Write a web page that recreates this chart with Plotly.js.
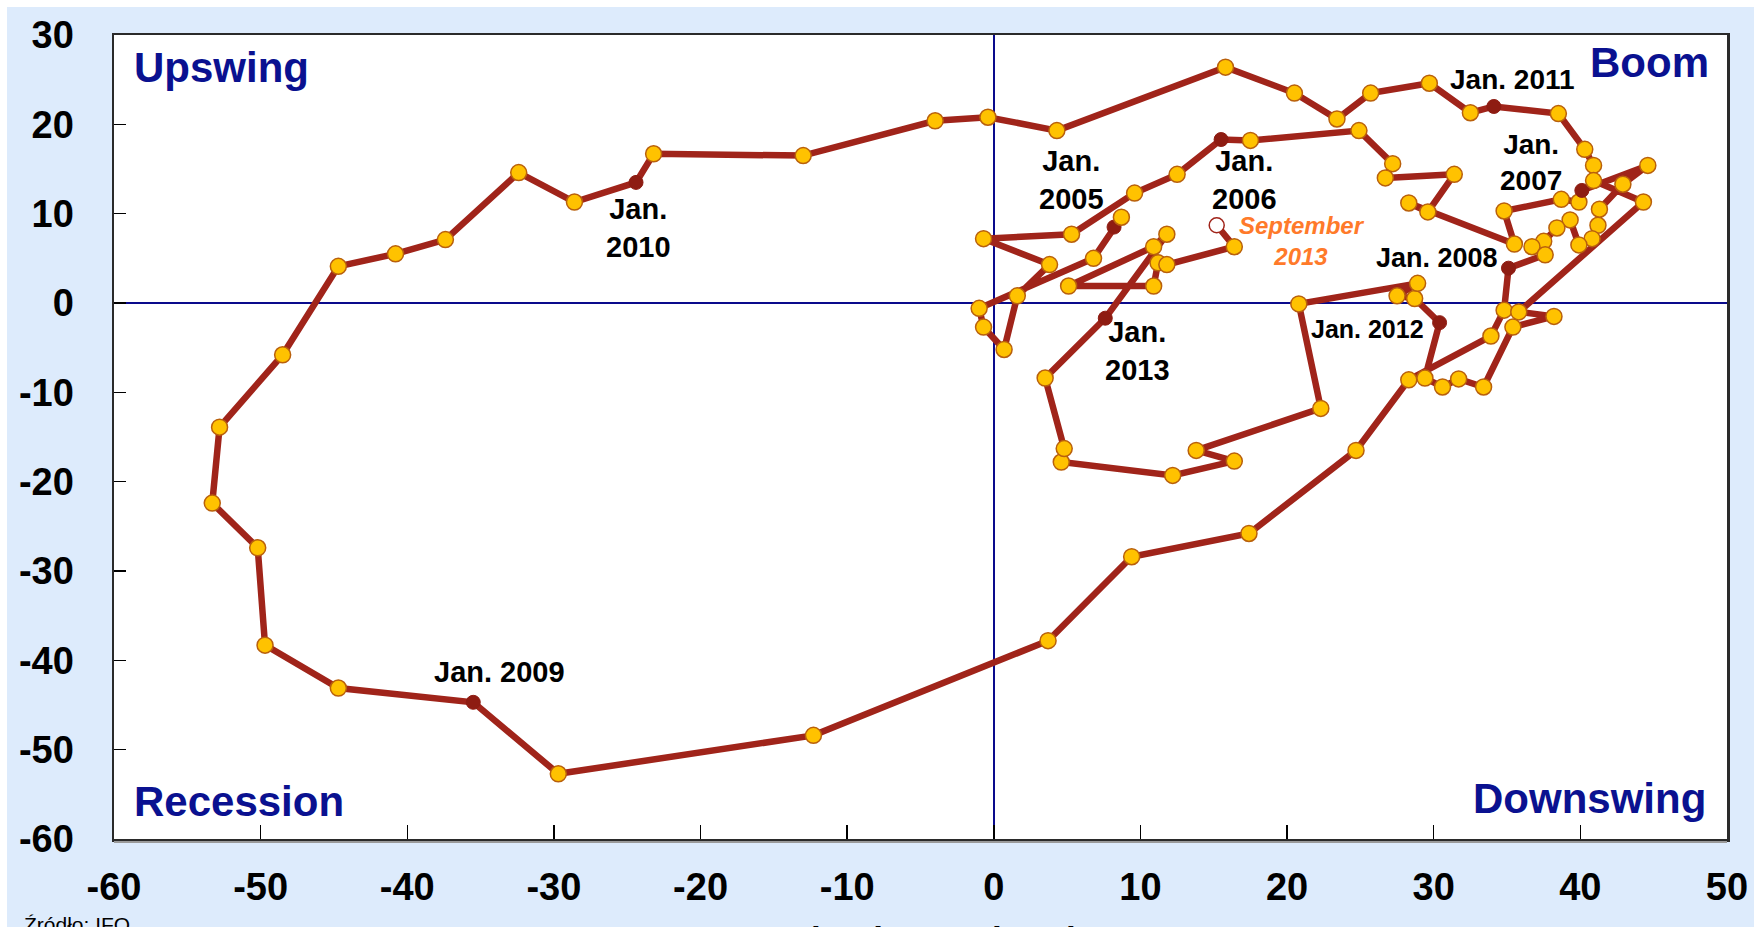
<!DOCTYPE html>
<html>
<head>
<meta charset="utf-8">
<script src="https://cdn.plot.ly/plotly-3.0.1.min.js"></script>
<style>
  html, body { margin: 0; padding: 0; background: #ffffff; }
  #chart { width: 1754px; height: 927px; }
</style>
</head>
<body>
<div id="chart"></div>
<script>
// Current business situation (x) and business expectations (y), monthly path
const situation = [
  8.2, 8.7, 6.8, -1.0, -0.7, 0.7, 1.6, 3.8, -0.7, 5.3, 9.6, 12.5,
  15.5, 17.5, 24.9, 27.2, 26.7, 31.4, 29.6, 28.3, 35.5, 34.8, 38.7, 39.9,
  40.1, 44.6, 42.9, 41.3, 41.2, 40.8, 39.9, 39.3, 38.4, 37.5, 36.7, 37.6,
  35.1, 34.8, 33.9, 28.3, 24.7, 17.4, 9.4, 3.7, -12.3, -29.7,
  -35.5, -44.7, -49.7, -50.2, -53.3, -52.8, -48.5, -44.7, -40.8, -37.4, -32.4, -28.6,
  -24.4, -23.2, -13.0, -4.0, -0.4, 4.3, 15.8, 20.5, 23.4, 25.7, 29.7, 32.5,
  34.1, 38.5, 40.3, 40.9, 40.9, 44.3, 35.8, 38.2, 35.4, 33.4, 31.7, 30.6, 29.4,
  30.4, 28.7, 27.5, 28.9, 20.8, 22.3, 13.8, 16.4, 12.2, 4.6, 4.8, 3.5,
  7.6, 11.8, 10.9, 5.1, 10.9, 11.2, 11.8, 16.4, 15.2
];
const expectations = [
  8.5, 9.6, 5.0, -0.6, -2.7, -5.2, 0.8, 4.3, 7.2, 7.7, 12.3, 14.4,
  18.3, 18.2, 19.3, 15.6, 14.0, 14.4, 10.2, 11.2, 6.6, 10.3, 11.6, 11.3,
  12.6, 15.4, 13.3, 10.5, 8.7, 7.2, 6.5, 9.3, 8.4, 6.9, 6.3, 5.4,
  3.9, -0.8, -3.7, -8.6, -16.5, -25.8, -28.4, -37.8, -48.4, -52.7,
  -44.7, -43.1, -38.3, -27.4, -22.4, -13.9, -5.8, 4.1, 5.5, 7.1, 14.6, 11.3,
  13.5, 16.7, 16.5, 20.4, 20.8, 19.3, 26.4, 23.5, 20.6, 23.5, 24.6, 21.3,
  22.0, 21.2, 17.2, 15.4, 13.7, 11.3, -1.0, -1.5, -2.7, -9.4, -8.5, -9.4, -8.4,
  -2.2, 0.5, 0.8, 2.2, -0.1, -11.8, -16.5, -17.7, -19.3, -17.8, -16.3, -8.4,
  -1.7, 7.7, 6.3, 1.9, 1.9, 4.5, 4.3, 6.3, 8.7
];
// indices of the January points in the path
const januaryIdx = [0, 12, 24, 36, 46, 58, 70, 83, 95];
const januaryLabels = ['Jan.<br>2005', 'Jan.<br>2006', 'Jan.<br>2007', 'Jan. 2008', 'Jan. 2009',
                       'Jan.<br>2010', 'Jan. 2011', 'Jan. 2012', 'Jan.<br>2013'];
const lastLabel = 'September<br>2013';
const quadrantLabels = ['Upswing', 'Boom', 'Recession', 'Downswing'];
const xTicks = [-60, -50, -40, -30, -20, -10, 0, 10, 20, 30, 40, 50];
const yTicks = [-60, -50, -40, -30, -20, -10, 0, 10, 20, 30];

const LINE = '#A0241A';
const JAN = '#8E1C12';
const YEL = '#FFC200';
const YEL_EDGE = '#B9600C';

const n = situation.length;
const mColor = [], mLine = [], mLineW = [], mSize = [];
for (let i = 0; i < n; i++) {
  if (i === n - 1) { mColor.push('#FFFFFF'); mLine.push(LINE); mLineW.push(1.5); mSize.push(15); }
  else if (januaryIdx.includes(i)) { mColor.push(JAN); mLine.push(JAN); mLineW.push(1); mSize.push(14); }
  else { mColor.push(YEL); mLine.push(YEL_EDGE); mLineW.push(1.5); mSize.push(16); }
}

const trace = {
  x: situation, y: expectations, type: 'scatter', mode: 'lines+markers',
  line: { color: LINE, width: 6.5 },
  marker: { color: mColor, size: mSize, opacity: 1, line: { color: mLine, width: mLineW } },
  hoverinfo: 'skip', cliponaxis: false
};

const janPos = [[5.3, 13.8], [17.1, 13.8], [36.6, 15.7], [30.2, 5.0], [-33.7, -41.3],
                [-24.2, 8.45], [35.4, 25.0], [25.5, -2.9], [9.8, -5.4]];
const janSize = [29, 29, 28, 27, 29, 29, 28, 25, 29];

const annotations = [];
januaryLabels.forEach((t, k) => {
  annotations.push({ x: janPos[k][0], y: janPos[k][1], xref: 'x', yref: 'y', text: t, showarrow: false,
    xanchor: 'center', yanchor: 'middle',
    font: { family: 'Liberation Sans, Arial, sans-serif', size: janSize[k], color: '#000000', weight: 'bold' } });
});
annotations.push({ x: 21.0, y: 6.9, xref: 'x', yref: 'y', text: lastLabel, showarrow: false,
  xanchor: 'center', yanchor: 'middle',
  font: { family: 'Liberation Sans, Arial, sans-serif', size: 24, color: '#FF7A2A', weight: 'bold', style: 'italic' } });

const navyFont = { family: 'Liberation Sans, Arial, sans-serif', size: 42, color: '#0A1190', weight: 'bold' };
const qPos = [[-58.8, 26.4, 'left'], [48.9, 26.9, 'right'], [-58.8, -55.8, 'left'], [48.7, -55.5, 'right']];
quadrantLabels.forEach((t, k) => {
  annotations.push({ x: qPos[k][0], y: qPos[k][1], xref: 'x', yref: 'y', text: t, showarrow: false,
    xanchor: qPos[k][2], yanchor: 'middle', font: navyFont });
});
// partially visible texts at the bottom edge
annotations.push({ x: (22 - 114) / 1613, y: (839 - 911) / 804, xref: 'paper', yref: 'paper', text: 'Źródło: IFO',
  showarrow: false, xanchor: 'left', yanchor: 'top',
  font: { family: 'Liberation Sans, Arial, sans-serif', size: 21, color: '#000000' } });
annotations.push({ x: (896 - 114) / 1613, y: (839 - 918) / 804, xref: 'paper', yref: 'paper', text: 'Current business situation',
  showarrow: false, xanchor: 'center', yanchor: 'top',
  font: { family: 'Liberation Sans, Arial, sans-serif', size: 35, color: '#000000', weight: 'bold' } });

const tickFont = { family: 'Liberation Sans, Arial, sans-serif', size: 38, color: '#000000', weight: 'bold' };
const axisCommon = {
  ticks: 'inside', tickwidth: 1.5, tickcolor: '#000000', showgrid: false,
  zeroline: true, zerolinecolor: '#0A0A8C', zerolinewidth: 1.5,
  showline: true, linecolor: '#2A2A2A', linewidth: 2.5, mirror: true,
  tickfont: tickFont, fixedrange: true
};

const layout = {
  width: 1754, height: 927,
  margin: { l: 114, r: 27, t: 35, b: 88, pad: 0 },
  paper_bgcolor: '#DDEBFC', plot_bgcolor: '#FFFFFF',
  showlegend: false,
  xaxis: Object.assign({}, axisCommon, { range: [-60, 50], tickvals: xTicks, ticktext: xTicks.map(String),
    ticklen: 14, ticklabelstandoff: 13 }),
  yaxis: Object.assign({}, axisCommon, { range: [-60, 30], tickvals: yTicks, ticktext: yTicks.map(String),
    ticklen: 12, ticklabelstandoff: 30 }),
  annotations: annotations,
  shapes: [
    { type: 'rect', xref: 'paper', yref: 'paper', x0: -0.1, x1: 1.1, y0: (839 - 7) / 804, y1: 1.1,
      fillcolor: '#FFFFFF', line: { width: 0 }, layer: 'below' },
    { type: 'rect', xref: 'paper', yref: 'paper', x0: -0.1, x1: (7 - 114) / 1613, y0: -0.2, y1: 1.1,
      fillcolor: '#FFFFFF', line: { width: 0 }, layer: 'below' },
    { type: 'line', xref: 'paper', yref: 'paper', x0: 0, x1: 1, y0: -3 / 804, y1: -3 / 804,
      line: { color: '#9A9A9A', width: 2 }, layer: 'above' }
  ]
};

Plotly.newPlot('chart', [trace], layout, { staticPlot: true, displayModeBar: false });
</script>
</body>
</html>
